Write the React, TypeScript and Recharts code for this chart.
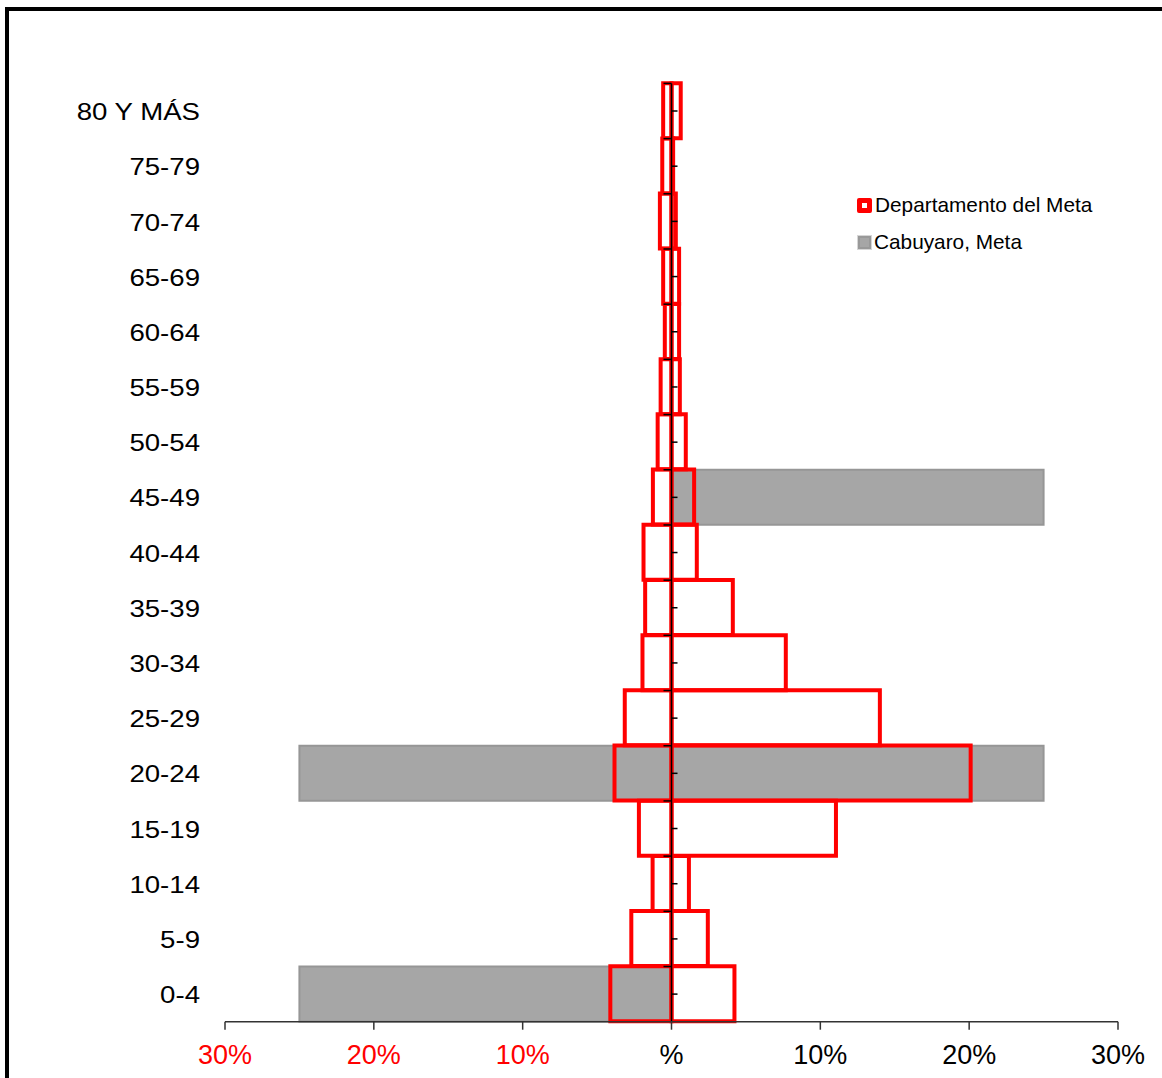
import React from 'react';
import { BarChart, Bar, XAxis, YAxis, ReferenceLine } from 'recharts';

const categories = ['80 Y MÁS', '75-79', '70-74', '65-69', '60-64', '55-59', '50-54', '45-49', '40-44', '35-39', '30-34', '25-29', '20-24', '15-19', '10-14', '5-9', '0-4'];
const metaLeft = [-0.56, -0.62, -0.78, -0.56, -0.45, -0.73, -0.93, -1.25, -1.88, -1.77, -1.95, -3.14, -3.83, -2.19, -1.27, -2.7, -4.11];
const metaRight = [0.62, 0.11, 0.29, 0.51, 0.51, 0.56, 0.96, 1.52, 1.7, 4.12, 7.68, 14.0, 20.1, 11.05, 1.17, 2.44, 4.23];
const cabLeft = [0, 0, 0, 0, 0, 0, 0, 0, 0, 0, 0, 0, -25, 0, 0, 0, -25];
const cabRight = [0, 0, 0, 0, 0, 0, 0, 25, 0, 0, 0, 0, 25, 0, 0, 0, 0];
const xTicks = [-30, -20, -10, 0, 10, 20, 30];
const seriesNames = ['Departamento del Meta', 'Cabuyaro, Meta'];

const data = categories.map((c, i) => ({
  cat: c,
  metaL: metaLeft[i],
  metaR: metaRight[i],
  cabL: cabLeft[i],
  cabR: cabRight[i],
}));

const W = 1162;
const H = 1078;
const PLOT_LEFT = 225;
const PLOT_RIGHT = 1118;
const PLOT_TOP = 83.4;
const PLOT_BOTTOM = 1021.7;
const XAXIS_H = 50;
const ZERO_X = PLOT_LEFT + (PLOT_RIGHT - PLOT_LEFT) / 2;
const BAND = (PLOT_BOTTOM - PLOT_TOP) / categories.length;
const FONT = '"Liberation Sans", Arial, sans-serif';

const YTick = (props: any) => {
  const { x, y, payload } = props;
  return (
    <g>
      <text
        transform={`translate(${x},${y}) scale(1.15,1)`}
        textAnchor="end"
        dy="0.38em"
        fontSize={24}
        fill="#000"
        fontFamily={FONT}
      >
        {payload.value}
      </text>
      <line x1={ZERO_X} x2={ZERO_X + 6} y1={y} y2={y} stroke="#000" strokeWidth={1.5} />
      <line x1={ZERO_X - 8} x2={ZERO_X} y1={y - BAND / 2} y2={y - BAND / 2} stroke="#000" strokeWidth={1.5} />
    </g>
  );
};

const XTick = (props: any) => {
  const { x, y, payload } = props;
  const v = payload.value as number;
  const label = v === 0 ? '%' : `${Math.abs(v)}%`;
  return (
    <text x={x} y={y} dy="0.71em" textAnchor="middle" fontSize={27} fill={v < 0 ? '#ff0000' : '#000'} fontFamily={FONT}>
      {label}
    </text>
  );
};

const LegendBox = () => (
  <div style={{ position: 'absolute', left: 857, top: 193, fontFamily: FONT, fontSize: 20.8, color: '#000', lineHeight: '24px' }}>
    <div style={{ display: 'flex', alignItems: 'center', height: 24, marginBottom: 13 }}>
      <span style={{ width: 5, height: 5, border: '5px solid #ff0000', background: '#fff', borderRadius: 2, marginRight: 3, display: 'inline-block' }} />
      <span>{seriesNames[0]}</span>
    </div>
    <div style={{ display: 'flex', alignItems: 'center', height: 24 }}>
      <span style={{ width: 9, height: 9, border: '2px solid #999', background: '#a6a6a6', outline: '1px solid #d6d6d6', marginRight: 3, marginLeft: 1, display: 'inline-block' }} />
      <span>{seriesNames[1]}</span>
    </div>
  </div>
);

export default function App() {
  return (
    <div style={{ position: 'fixed', left: 0, top: 0, width: W, height: H, overflow: 'hidden', background: '#fff' }}>
      <div style={{ position: 'absolute', left: 5, top: 7, width: 1300, height: 1300, border: '4px solid #000', boxSizing: 'border-box' }} />
      <div style={{ position: 'absolute', left: 0, top: 0 }}>
        <BarChart
          width={W}
          height={H}
          data={data}
          layout="vertical"
          stackOffset="sign"
          barCategoryGap={0}
          barGap="-100%"
          margin={{ top: PLOT_TOP, bottom: H - PLOT_BOTTOM - XAXIS_H, left: 0, right: W - PLOT_RIGHT }}
        >
          <XAxis
            type="number"
            domain={[-30, 30]}
            ticks={xTicks}
            allowDataOverflow
            height={XAXIS_H}
            tickSize={8}
            tickMargin={15}
            tick={<XTick />}
            axisLine={{ stroke: '#333', strokeWidth: 1.5 }}
            tickLine={{ stroke: '#333', strokeWidth: 1.5 }}
          />
          <Bar dataKey="cabL" stackId="cab" fill="#a6a6a6" stroke="#969696" strokeWidth={2} isAnimationActive={false} />
          <Bar dataKey="cabR" stackId="cab" fill="#a6a6a6" stroke="#969696" strokeWidth={2} isAnimationActive={false} />
          <Bar dataKey="metaL" stackId="meta" fill="none" stroke="#ff0000" strokeWidth={4} isAnimationActive={false} />
          <Bar dataKey="metaR" stackId="meta" fill="none" stroke="#ff0000" strokeWidth={4} isAnimationActive={false} />
          <ReferenceLine x={0} stroke="#000" strokeWidth={1.5} />
          <YAxis
            type="category"
            dataKey="cat"
            width={PLOT_LEFT}
            tickSize={0}
            tickMargin={25}
            axisLine={false}
            tickLine={false}
            interval={0}
            tick={<YTick />}
          />
        </BarChart>
      </div>
      <LegendBox />
    </div>
  );
}
